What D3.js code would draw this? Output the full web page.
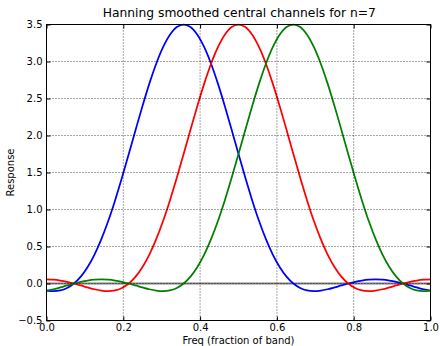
<!DOCTYPE html>
<html>
<head>
<meta charset="utf-8">
<script src="https://cdn.jsdelivr.net/npm/d3@7"></script>
<style>
  body { margin: 0; background: #fff; }
  text { font-family: "DejaVu Sans", sans-serif; fill: #000; }
</style>
</head>
<body>
<div id="chart"></div>
<script>
const freqs = d3.range(57).map(i => i / 56);

const blue = [-0.096,-0.103,-0.093,-0.060,0.000,0.093,0.223,0.391,0.599,0.844,1.123,1.428,1.750,2.078,2.399,2.701,2.970,3.193,3.361,3.465,3.500,3.465,3.361,3.193,2.970,2.701,2.399,2.078,1.750,1.428,1.123,0.844,0.599,0.391,0.223,0.093,0.000,-0.060,-0.093,-0.103,-0.096,-0.078,-0.053,-0.026,0.000,0.023,0.040,0.051,0.055,0.051,0.040,0.023,0.000,-0.026,-0.053,-0.078,-0.096];

const red = [0.055,0.051,0.040,0.023,0.000,-0.026,-0.053,-0.078,-0.096,-0.103,-0.093,-0.060,0.000,0.093,0.223,0.391,0.599,0.844,1.123,1.428,1.750,2.078,2.399,2.701,2.970,3.193,3.361,3.465,3.500,3.465,3.361,3.193,2.970,2.701,2.399,2.078,1.750,1.428,1.123,0.844,0.599,0.391,0.223,0.093,0.000,-0.060,-0.093,-0.103,-0.096,-0.078,-0.053,-0.026,0.000,0.023,0.040,0.051,0.055];

const green = [-0.096,-0.078,-0.053,-0.026,0.000,0.023,0.040,0.051,0.055,0.051,0.040,0.023,0.000,-0.026,-0.053,-0.078,-0.096,-0.103,-0.093,-0.060,0.000,0.093,0.223,0.391,0.599,0.844,1.123,1.428,1.750,2.078,2.399,2.701,2.970,3.193,3.361,3.465,3.500,3.465,3.361,3.193,2.970,2.701,2.399,2.078,1.750,1.428,1.123,0.844,0.599,0.391,0.223,0.093,0.000,-0.060,-0.093,-0.103,-0.096];

const xTicks = [0, 0.2, 0.4, 0.6, 0.8, 1.0];
const yTicks = [-0.5, 0, 0.5, 1.0, 1.5, 2.0, 2.5, 3.0, 3.5];

const W = 440, H = 346;
const pLeft = 46.5, pRight = 430.5, pTop = 24.5, pBottom = 320.5;

const svg = d3.select("#chart")
    .append("svg")
    .attr("width", W)
    .attr("height", H);

const x = d3.scaleLinear().domain([0, 1]).range([pLeft, pRight]);
const y = d3.scaleLinear().domain([-0.5, 3.5]).range([pBottom, pTop]);

const fmt = d => d3.format(".1f")(d).replace("-", "\u2212");

// zero line
svg.append("line")
    .attr("x1", pLeft).attr("x2", pRight)
    .attr("y1", y(0)).attr("y2", y(0))
    .attr("stroke", "#808080")
    .attr("stroke-width", 2);

// curves
const line = d3.line()
    .x((d, i) => x(freqs[i]))
    .y(d => y(d))
    .curve(d3.curveCatmullRom);

[[blue, "#0000ff"], [red, "#ff0000"], [green, "#008000"]].forEach(s => {
    svg.append("path")
        .datum(s[0])
        .attr("d", line)
        .attr("fill", "none")
        .attr("stroke", s[1])
        .attr("stroke-width", 1.75);
});

// frame
svg.append("rect")
    .attr("x", pLeft).attr("y", pTop)
    .attr("width", pRight - pLeft).attr("height", pBottom - pTop)
    .attr("fill", "none")
    .attr("stroke", "#000")
    .attr("stroke-width", 1);

// grid
const grid = svg.append("g")
    .attr("stroke", "#000")
    .attr("stroke-width", 0.7)
    .attr("stroke-dasharray", "1,2");

grid.selectAll(".gx")
    .data(xTicks)
    .enter().append("line")
    .attr("x1", d => x(d)).attr("x2", d => x(d))
    .attr("y1", pTop).attr("y2", pBottom);

grid.selectAll(".gy")
    .data(yTicks)
    .enter().append("line")
    .attr("x1", pLeft).attr("x2", pRight)
    .attr("y1", d => y(d)).attr("y2", d => y(d));

// axes with inward ticks on all four sides
svg.append("g")
    .attr("transform", `translate(0,${pBottom})`)
    .call(d3.axisBottom(x).tickValues(xTicks).tickSizeInner(-4).tickSizeOuter(0).tickPadding(3).tickFormat(fmt))
    .call(g => g.select(".domain").remove())
    .call(g => g.selectAll("text").attr("font-size", 10).attr("font-family", "DejaVu Sans"));

svg.append("g")
    .attr("transform", `translate(0,${pTop})`)
    .call(d3.axisTop(x).tickValues(xTicks).tickSizeInner(-4).tickSizeOuter(0).tickFormat(""))
    .call(g => g.select(".domain").remove());

svg.append("g")
    .attr("transform", `translate(${pLeft},0)`)
    .call(d3.axisLeft(y).tickValues(yTicks).tickSizeInner(-4).tickSizeOuter(0).tickPadding(4).tickFormat(fmt))
    .call(g => g.select(".domain").remove())
    .call(g => g.selectAll("text").attr("font-size", 10).attr("font-family", "DejaVu Sans"));

svg.append("g")
    .attr("transform", `translate(${pRight},0)`)
    .call(d3.axisRight(y).tickValues(yTicks).tickSizeInner(-4).tickSizeOuter(0).tickFormat(""))
    .call(g => g.select(".domain").remove());

// labels
svg.append("text")
    .attr("x", 239.3)
    .attr("y", 17.3)
    .attr("text-anchor", "middle")
    .attr("font-size", 12.3)
    .text("Hanning smoothed central channels for n=7");

svg.append("text")
    .attr("x", (pLeft + pRight) / 2)
    .attr("y", 344)
    .attr("text-anchor", "middle")
    .attr("font-size", 10)
    .text("Freq (fraction of band)");

svg.append("text")
    .attr("transform", `translate(13.5,${(pTop + pBottom) / 2}) rotate(-90)`)
    .attr("text-anchor", "middle")
    .attr("font-size", 10)
    .text("Response");
</script>
</body>
</html>
